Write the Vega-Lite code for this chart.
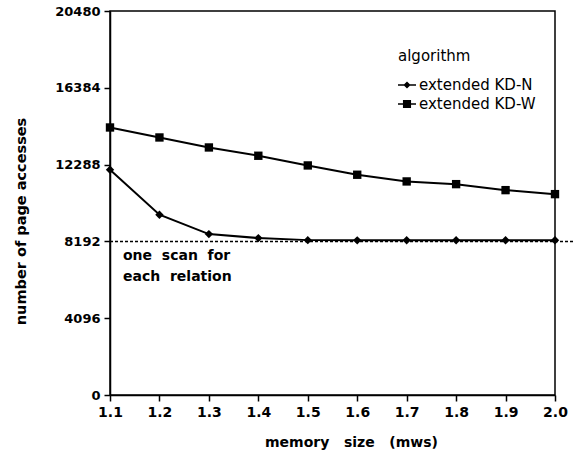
{
  "$schema": "https://vega.github.io/schema/vega-lite/v6.json",
  "width": 445,
  "height": 384,
  "autosize": {"type": "none"},
  "padding": {"left": 110, "top": 11, "right": 20, "bottom": 65},
  "background": "white",
  "config": {
    "view": {"stroke": "black", "strokeWidth": 1.5},
    "font": "DejaVu Sans",
    "axis": {
      "grid": false,
      "domainColor": "black",
      "domainWidth": 1.5,
      "tickColor": "black",
      "tickWidth": 1.5,
      "labelColor": "black",
      "titleColor": "black",
      "labelFont": "DejaVu Sans",
      "titleFont": "DejaVu Sans"
    }
  },
  "resolve": {"scale": {"shape": "independent"}, "legend": {"shape": "independent"}},
  "datasets": {
    "series": [
      {"mws": 1.1, "pages": 12014, "algorithm": "extended KD-N"},
      {"mws": 1.2, "pages": 9615, "algorithm": "extended KD-N"},
      {"mws": 1.3, "pages": 8581, "algorithm": "extended KD-N"},
      {"mws": 1.4, "pages": 8370, "algorithm": "extended KD-N"},
      {"mws": 1.5, "pages": 8260, "algorithm": "extended KD-N"},
      {"mws": 1.6, "pages": 8250, "algorithm": "extended KD-N"},
      {"mws": 1.7, "pages": 8255, "algorithm": "extended KD-N"},
      {"mws": 1.8, "pages": 8255, "algorithm": "extended KD-N"},
      {"mws": 1.9, "pages": 8255, "algorithm": "extended KD-N"},
      {"mws": 2.0, "pages": 8255, "algorithm": "extended KD-N"},
      {"mws": 1.1, "pages": 14268, "algorithm": "extended KD-W"},
      {"mws": 1.2, "pages": 13735, "algorithm": "extended KD-W"},
      {"mws": 1.3, "pages": 13202, "algorithm": "extended KD-W"},
      {"mws": 1.4, "pages": 12760, "algorithm": "extended KD-W"},
      {"mws": 1.5, "pages": 12243, "algorithm": "extended KD-W"},
      {"mws": 1.6, "pages": 11747, "algorithm": "extended KD-W"},
      {"mws": 1.7, "pages": 11390, "algorithm": "extended KD-W"},
      {"mws": 1.8, "pages": 11246, "algorithm": "extended KD-W"},
      {"mws": 1.9, "pages": 10926, "algorithm": "extended KD-W"},
      {"mws": 2.0, "pages": 10713, "algorithm": "extended KD-W"}
    ],
    "scanline": [
      {"mws": 1.1, "mws_end": 2.04, "pages": 8192, "label": "one\u00a0 scan\u00a0 for\neach\u00a0 relation"}
    ]
  },
  "layer": [
    {
      "data": {"name": "scanline"},
      "mark": {"type": "rule", "color": "black", "strokeWidth": 1.5, "strokeDash": [3, 2], "clip": false},
      "encoding": {
        "x": {"field": "mws", "type": "quantitative", "scale": {"domain": [1.1, 2.0], "nice": false, "zero": false},
          "axis": {
            "title": "memory\u00a0\u00a0 size\u00a0\u00a0 (mws)",
            "values": [1.1, 1.15, 1.2, 1.25, 1.3, 1.35, 1.4, 1.45, 1.5, 1.55, 1.6, 1.65, 1.7, 1.75, 1.8, 1.85, 1.9, 1.95, 2.0],
            "format": ".1f",
            "labelExpr": "round(datum.value*100) % 10 == 0 ? datum.label : ''",
            "tickSize": {"condition": {"test": "round(datum.value*100) % 10 != 0", "value": 3}, "value": 6},
            "labelFontSize": 14,
            "labelFontWeight": "bold",
            "labelPadding": 4,
            "labelFlush": false,
            "labelOverlap": false,
            "titleFontSize": 14,
            "titleFontWeight": "bold",
            "titlePadding": 16,
            "titleX": 241
          }},
        "x2": {"field": "mws_end"},
        "y": {"field": "pages", "type": "quantitative", "scale": {"domain": [0, 20480], "nice": false},
          "axis": {
            "title": "number of page accesses",
            "values": [0, 2048, 4096, 6144, 8192, 10240, 12288, 14336, 16384, 18432, 20480],
            "format": "d",
            "labelExpr": "datum.value % 4096 == 0 ? datum.label : ''",
            "tickSize": {"condition": {"test": "datum.value % 4096 != 0", "value": 3}, "value": 6},
            "labelFontSize": 13,
            "labelFontWeight": "bold",
            "labelPadding": 4,
            "labelFlush": false,
            "labelOverlap": false,
            "titleFontSize": 14.5,
            "titleFontWeight": "bold",
            "titlePadding": 26,
            "titleY": 210
          }}
      }
    },
    {
      "data": {"name": "scanline"},
      "mark": {"type": "text", "align": "left", "baseline": "top", "dx": 13, "dy": 8, "fontSize": 14, "fontWeight": "bold", "font": "DejaVu Sans", "lineBreak": "\n", "lineHeight": 21, "color": "black"},
      "encoding": {
        "x": {"field": "mws", "type": "quantitative"},
        "y": {"field": "pages", "type": "quantitative"},
        "text": {"field": "label"}
      }
    },
    {
      "data": {"name": "series"},
      "mark": {"type": "line", "color": "black", "strokeWidth": 2},
      "encoding": {
        "x": {"field": "mws", "type": "quantitative"},
        "y": {"field": "pages", "type": "quantitative"},
        "detail": {"field": "algorithm"}
      }
    },
    {
      "data": {"name": "series"},
      "mark": {"type": "point", "filled": true, "color": "black", "opacity": 1},
      "encoding": {
        "x": {"field": "mws", "type": "quantitative"},
        "y": {"field": "pages", "type": "quantitative"},
        "shape": {"field": "algorithm", "type": "nominal",
          "scale": {"domain": ["extended KD-N", "extended KD-W"], "range": ["diamond", "square"]},
          "legend": null},
        "size": {"value": 70}
      }
    },
    {
      "data": {"name": "series"},
      "mark": {"type": "point", "filled": true, "color": "black", "opacity": 0},
      "encoding": {
        "x": {"field": "mws", "type": "quantitative"},
        "y": {"field": "pages", "type": "quantitative"},
        "shape": {"field": "algorithm", "type": "nominal",
          "scale": {"domain": ["extended KD-N", "extended KD-W"], "range": ["M-1,-0.08H1V0.08H-1Z M0,-0.4L0.4,0L0,0.4L-0.4,0Z", "M-1,-0.08H1V0.08H-1Z M-0.45,-0.45H0.45V0.45H-0.45Z"]},
          "legend": {
            "title": "algorithm",
            "orient": "none",
            "legendX": 288,
            "legendY": 38,
            "titleFontSize": 15,
            "titleFontWeight": "normal",
            "titleColor": "black",
            "titlePadding": 12,
            "titleAlign": "left",
            "labelFontSize": 15,
            "labelColor": "black",
            "labelOffset": 3,
            "symbolFillColor": "black",
            "symbolStrokeColor": "black",
            "symbolStrokeWidth": 0,
            "symbolOpacity": 1,
            "symbolSize": 324,
            "rowPadding": 2,
            "offset": 0
          }},
        "size": {"value": 70}
      }
    }
  ]
}
